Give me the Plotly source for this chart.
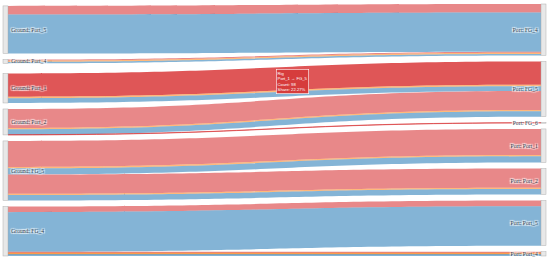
import plotly.graph_objects as go

# ---- data ----
left_nodes = ["Port_5", "Port_4", "Port_1", "Port_2", "FG_5", "FG_4"]
right_nodes = ["FG_4", "FG_5", "FG_6", "Port_1", "Port_2", "Port_5", "Port_4"]
categories = ["Rig", "Barge", "Vessel"]

link_source = ["Port_5", "Port_5",
               "Port_4", "Port_4", "Port_4",
               "Port_1", "Port_1", "Port_1",
               "Port_2", "Port_2", "Port_2", "Port_2",
               "FG_5", "FG_5", "FG_5",
               "FG_5", "FG_5", "FG_5",
               "FG_4", "FG_4",
               "FG_4", "FG_4", "FG_4"]
link_target = ["FG_4", "FG_4",
               "FG_4", "FG_4", "FG_4",
               "FG_5", "FG_5", "FG_5",
               "FG_5", "FG_5", "FG_5", "FG_6",
               "Port_1", "Port_1", "Port_1",
               "Port_2", "Port_2", "Port_2",
               "Port_5", "Port_5",
               "Port_4", "Port_4", "Port_4"]
link_category = ["Rig", "Vessel",
                 "Rig", "Barge", "Vessel",
                 "Rig", "Barge", "Vessel",
                 "Rig", "Barge", "Vessel", "Rig",
                 "Rig", "Barge", "Vessel",
                 "Rig", "Barge", "Vessel",
                 "Rig", "Vessel",
                 "Rig", "Barge", "Vessel"]
link_count = [36, 164,
              5, 5, 6,
              98, 6, 20,
              80, 5, 23, 1,
              109, 6, 26,
              81, 5, 23,
              24, 166,
              6, 4, 8]

highlight = ("Port_1", "FG_5", "Rig")

# ---- styling ----
cat_color = {"Rig": "rgba(214,39,40,0.55)",
             "Barge": "rgba(255,127,14,0.55)",
             "Vessel": "rgba(31,119,180,0.55)"}
highlight_color = "rgba(214,39,40,0.78)"

node_labels = ["Ground: " + n for n in left_nodes] + ["Port: " + n for n in right_nodes]
left_idx = {n: i for i, n in enumerate(left_nodes)}
right_idx = {n: len(left_nodes) + i for i, n in enumerate(right_nodes)}

cat_total = {c: sum(v for v, k in zip(link_count, link_category) if k == c) for c in categories}

src = [left_idx[s] for s in link_source]
tgt = [right_idx[t] for t in link_target]
colors = []
custom = []
for s, t, c, v in zip(link_source, link_target, link_category, link_count):
    colors.append(highlight_color if (s, t, c) == highlight else cat_color[c])
    custom.append([s, t, 100.0 * v / cat_total[c]])

fig = go.Figure(go.Sankey(
    arrangement="snap",
    node=dict(
        label=node_labels,
        pad=6,
        thickness=5,
        color="rgba(232,232,232,1)",
        line=dict(color="rgba(170,170,170,0.9)", width=0.5),
        hoverinfo="skip",
    ),
    link=dict(
        source=src,
        target=tgt,
        value=link_count,
        label=link_category,
        color=colors,
        customdata=custom,
        hovertemplate="%{label}<br>%{customdata[0]} → %{customdata[1]}<br>"
                      "Count: %{value}<br>Share: %{customdata[2]:.2f}%<extra></extra>",
    ),
    textfont=dict(family="Liberation Serif, Times New Roman, serif", size=5.6, color="#2f3e4e"),
))

# emulate the hover label visible in the reference
hs, ht, hc = highlight
hv = [v for s, t, c, v in zip(link_source, link_target, link_category, link_count) if (s, t, c) == highlight][0]
fig.add_annotation(
    xref="paper", yref="paper", x=0.503, y=0.742, xanchor="left", yanchor="top",
    text=f"{hc}<br>{hs} → {ht}<br>Count: {hv}<br>Share: {100.0 * hv / cat_total[hc]:.2f}%",
    showarrow=False, align="left",
    font=dict(family="Liberation Sans, Arial, sans-serif", size=4.2, color="white"),
    bgcolor="rgba(214,60,60,1)", bordercolor="white", borderwidth=0.6, borderpad=1.0,
)

fig.update_layout(
    width=550, height=258,
    margin=dict(l=3, r=4, t=4, b=2),
    paper_bgcolor="white",
    plot_bgcolor="white",
    font=dict(family="Liberation Serif, Times New Roman, serif", size=6, color="#2f3e4e"),
)

fig.write_html("out.html", config={"displayModeBar": False},
               post_script="document.body.style.margin='0';")
